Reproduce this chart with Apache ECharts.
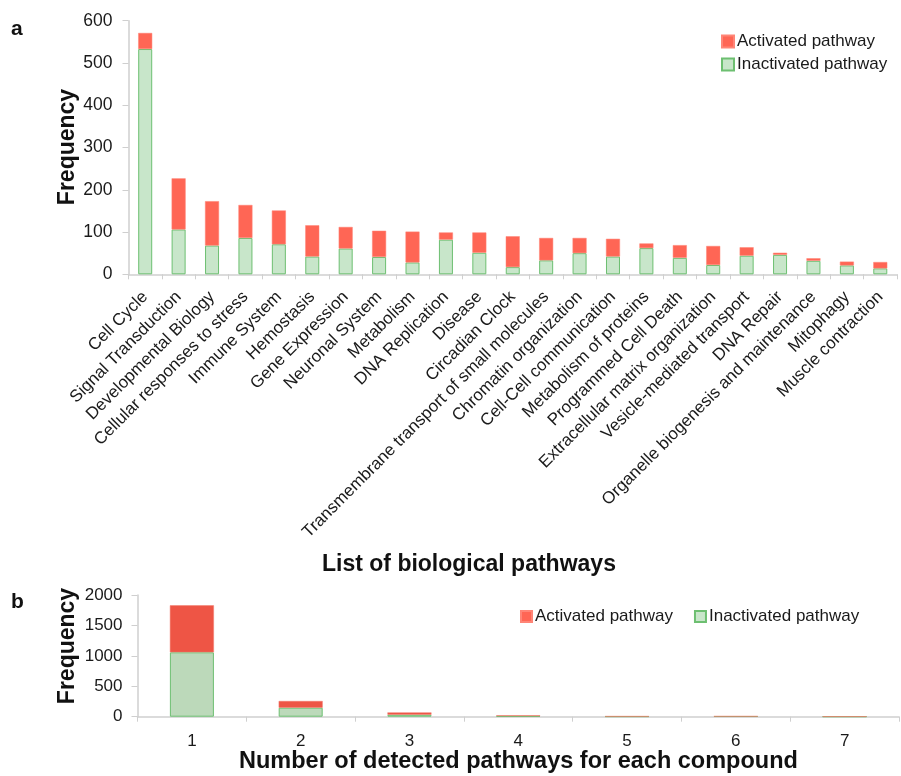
<!DOCTYPE html>
<html>
<head>
<meta charset="utf-8">
<script src="https://cdn.jsdelivr.net/npm/echarts@6/dist/echarts.min.js"></script>
<style>
  html, body { margin: 0; padding: 0; background: #fff; }
  #chart { width: 901px; height: 776px; }
</style>
</head>
<body>
<div id="chart"></div>
<script>
// Panel a: pathway categories and per-category frequencies
const pathways = [
  'Cell Cycle', 'Signal Transduction', 'Developmental Biology', 'Cellular responses to stress',
  'Immune System', 'Hemostasis', 'Gene Expression', 'Neuronal System', 'Metabolism',
  'DNA Replication', 'Disease', 'Circadian Clock', 'Transmembrane transport of small molecules',
  'Chromatin organization', 'Cell-Cell communication', 'Metabolism of proteins',
  'Programmed Cell Death', 'Extracellular matrix organization', 'Vesicle-mediated transport',
  'DNA Repair', 'Organelle biogenesis and maintenance', 'Mitophagy', 'Muscle contraction'
];
const pathwayInactivated = [533, 106, 68, 86, 71, 42, 61, 41, 28, 82, 51, 17, 33, 50, 42, 62, 39, 22, 44, 46, 32, 21, 14];
const pathwayActivated   = [38, 121, 105, 78, 80, 74, 51, 62, 73, 17, 48, 73, 53, 36, 42, 11, 30, 45, 20, 5, 6, 9, 15];

// Panel b: number of detected pathways per compound
const pathwayCounts = ['1', '2', '3', '4', '5', '6', '7'];
const countInactivated = [1058, 148, 33, 10, 3, 6, 1];
const countActivated   = [772, 110, 38, 14, 5, 1, 4];

const topTicks = { min: 0, max: 600, interval: 100 };
const bottomTicks = { min: 0, max: 2000, interval: 500 };

const FONT = 'Liberation Sans, Arial, Helvetica, sans-serif';
const RED_A = '#FF6655';
const RED_B = '#EE5545';
const GREEN_A = '#C8E6CA';
const GREEN_B = '#BCD9BA';
const GREEN_EDGE = '#6DBF71';
const AXIS = '#cfcfcf';
const TEXT = '#1a1a1a';

const chart = echarts.init(document.getElementById('chart'));

const legendText = { fontFamily: FONT, fontSize: 17, color: TEXT, padding: [0, 0, 0, -2] };

// Rotated y-axis titles, drawn as free text so they sit at a fixed spot
function yTitle(cx, cy) {
  return {
    type: 'text', x: cx, y: cy, rotation: Math.PI / 2,
    style: { text: 'Frequency', font: 'bold 23px ' + FONT, fill: '#111', align: 'center', verticalAlign: 'middle' }
  };
}

chart.setOption({
  animation: false,
  backgroundColor: '#ffffff',
  textStyle: { fontFamily: FONT, color: TEXT },
  grid: [
    { left: 128.5, right: 4, top: 20.7, height: 253.6 },
    { left: 137.5, right: 2, top: 595, height: 121.7 }
  ],
  legend: [
    {
      orient: 'vertical', left: 716, top: 28, itemGap: 6,
      itemWidth: 12, itemHeight: 12,
      data: ['Activated pathway', 'Inactivated pathway'],
      textStyle: legendText,
      icon: 'rect'
    },
    {
      orient: 'horizontal', left: 515, top: 603, itemGap: 21,
      itemWidth: 11, itemHeight: 11,
      data: ['Activated pathway', 'Inactivated pathway'],
      textStyle: legendText,
      icon: 'rect'
    }
  ],
  xAxis: [
    {
      type: 'category', gridIndex: 0, data: pathways,
      axisLine: { lineStyle: { color: AXIS, width: 1.5 } },
      axisTick: { show: true, length: 5, lineStyle: { color: AXIS } },
      axisLabel: { rotate: 45, fontSize: 17, color: TEXT, fontFamily: FONT, margin: 20, interval: 0 }
    },
    {
      type: 'category', gridIndex: 1, data: pathwayCounts,
      axisLine: { lineStyle: { color: AXIS, width: 1.5 } },
      axisTick: { show: true, length: 5, lineStyle: { color: AXIS } },
      axisLabel: { fontSize: 17, color: TEXT, fontFamily: FONT, margin: 16 }
    }
  ],
  yAxis: [
    {
      type: 'value', gridIndex: 0, min: topTicks.min, max: topTicks.max, interval: topTicks.interval,
      axisLine: { show: true, lineStyle: { color: AXIS, width: 1.5 } },
      axisTick: { show: true, length: 6, lineStyle: { color: AXIS } },
      splitLine: { show: false },
      axisLabel: { fontSize: 17.5, color: TEXT, fontFamily: FONT, margin: 16 }
    },
    {
      type: 'value', gridIndex: 1, min: bottomTicks.min, max: bottomTicks.max, interval: bottomTicks.interval,
      axisLine: { show: true, lineStyle: { color: AXIS, width: 1.5 } },
      axisTick: { show: true, length: 6, lineStyle: { color: AXIS } },
      splitLine: { show: false },
      axisLabel: { fontSize: 17, color: TEXT, fontFamily: FONT, margin: 15, formatter: v => String(v) }
    }
  ],
  series: [
    {
      name: 'Inactivated pathway', type: 'bar', stack: 'a', xAxisIndex: 0, yAxisIndex: 0,
      barWidth: 14, data: pathwayInactivated,
      itemStyle: { color: GREEN_A, borderColor: GREEN_EDGE, borderWidth: 1 }
    },
    {
      name: 'Activated pathway', type: 'bar', stack: 'a', xAxisIndex: 0, yAxisIndex: 0,
      barWidth: 14, data: pathwayActivated,
      itemStyle: { color: RED_A, borderColor: '#FF8577', borderWidth: 0.5 }
    },
    {
      name: 'Inactivated pathway', type: 'bar', stack: 'b', xAxisIndex: 1, yAxisIndex: 1,
      barWidth: 44, data: countInactivated,
      itemStyle: { color: GREEN_B, borderColor: GREEN_EDGE, borderWidth: 1 }
    },
    {
      name: 'Activated pathway', type: 'bar', stack: 'b', xAxisIndex: 1, yAxisIndex: 1,
      barWidth: 44, data: countActivated,
      itemStyle: { color: RED_B, borderColor: '#F27A6C', borderWidth: 0.5 }
    }
  ],
  graphic: [
    { type: 'text', left: 11, top: 19, style: { text: 'a', font: 'bold 21px ' + FONT, fill: '#111' } },
    { type: 'text', left: 11, top: 592, style: { text: 'b', font: 'bold 21px ' + FONT, fill: '#111' } },
    yTitle(68, 147),
    yTitle(68, 646),
    { type: 'text', left: 322, top: 553, style: { text: 'List of biological pathways', font: 'bold 23px ' + FONT, fill: '#111' } },
    { type: 'text', left: 239, top: 750, style: { text: 'Number of detected pathways for each compound', font: 'bold 23.5px ' + FONT, fill: '#111' } }
  ]
});
</script>
</body>
</html>
